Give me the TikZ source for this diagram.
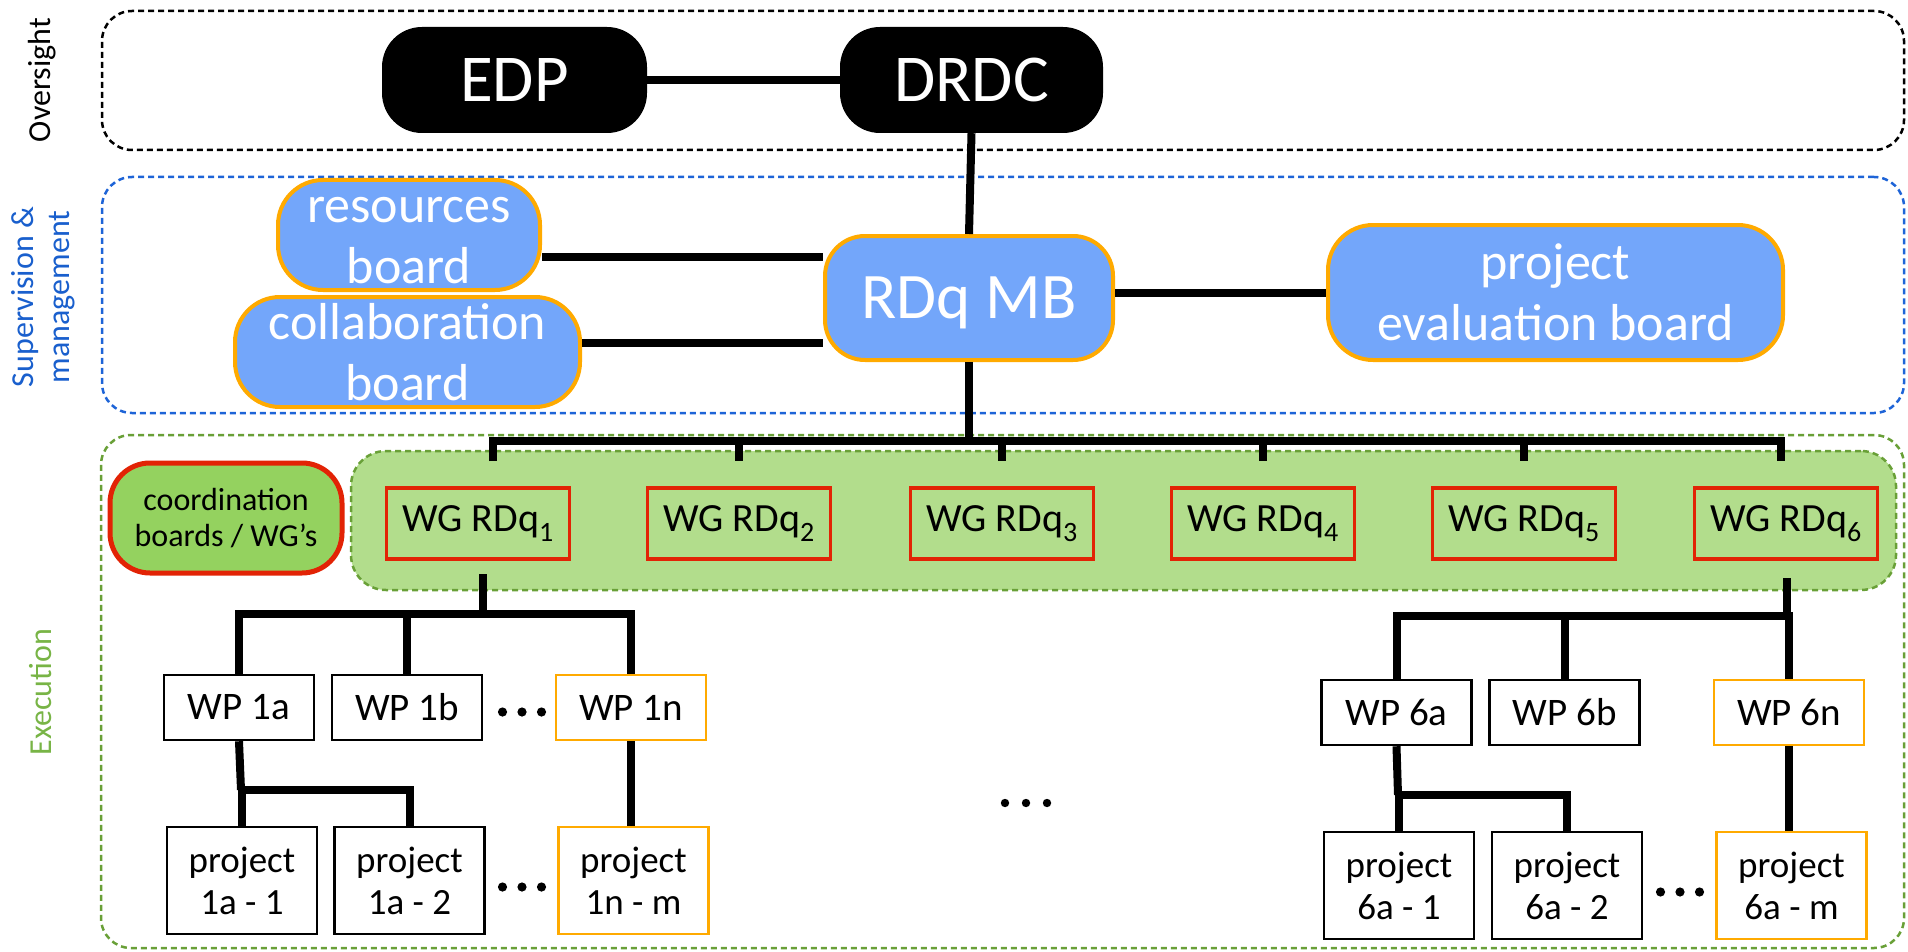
\documentclass[tikz,border=0pt]{standalone}
\usepackage{fontspec}
\setmainfont{Carlito}
\usetikzlibrary{calc}
\definecolor{bfill}{RGB}{115,166,250}
\definecolor{oborder}{RGB}{255,170,0}
\definecolor{gin}{RGB}{178,221,140}
\definecolor{gdash}{RGB}{105,160,55}
\definecolor{cfill}{RGB}{148,210,95}
\definecolor{rborder}{RGB}{226,35,5}
\definecolor{slabel}{RGB}{25,95,205}
\definecolor{sdash}{RGB}{30,100,215}
\definecolor{elabel}{RGB}{120,180,70}
\begin{document}
\begin{tikzpicture}[x=1pt,y=-1pt,
  container/.style={line width=2.5pt, dash pattern=on 6pt off 4pt, rounded corners=30pt, inner sep=0pt},
  blackbox/.style={fill=black, text=white, rounded corners=40pt, inner sep=0pt, minimum height=106pt, font=\fontsize{67}{67}\selectfont},
  bluebox/.style={fill=bfill, draw=oborder, line width=4pt, text=white, rounded corners=45pt, inner sep=0pt, align=center, font=\fontsize{52}{61}\selectfont},
  wgbox/.style={draw=rborder, line width=3.5pt, inner sep=0pt, minimum width=183pt, minimum height=71pt, font=\fontsize{40}{40}\selectfont},
  wpbox/.style={draw=black, line width=2.5pt, fill=white, inner sep=0pt, minimum width=150pt, minimum height=65pt, font=\fontsize{39}{39}\selectfont},
  wpor/.style={wpbox, draw=oborder},
  projbox/.style={wpbox, minimum height=107pt, align=center, font=\fontsize{37}{42}\selectfont},
  projor/.style={projbox, draw=oborder},
  link/.style={line width=8pt},
  dotmark/.style={inner sep=0pt, minimum size=0pt},
  sidelabel/.style={rotate=90, inner sep=0pt, align=center, font=\fontsize{32}{36}\selectfont}
]
\useasboundingbox (0,0) rectangle (1908,952);

% containers
\node[container, draw=black, minimum width=1802pt, minimum height=139pt] (over) at (1003,80.5) {};
\node[container, draw=sdash, minimum width=1802pt, minimum height=236pt] (sup) at (1003,295) {};
\node[container, draw=gdash, minimum width=1803pt, minimum height=513pt] (exe) at (1002.5,691.5) {};
\node[container, draw=gdash, fill=gin, rounded corners=35pt, minimum width=1545pt, minimum height=139pt] (wgrow) at (1123.5,520.5) {};

% side labels
\node[sidelabel] (lover) at (42,80) {Oversight};
\node[sidelabel, text=slabel] (lsup) at (43,297) {Supervision \&\\management};
\node[sidelabel, text=elabel] (lexe) at (41,692) {Execution};

% oversight
\node[blackbox, minimum width=265pt] (edp) at (514.5,80) {EDP};
\node[blackbox, minimum width=263pt] (drdc) at (971.5,80) {DRDC};

% supervision
\node[bluebox, minimum width=288pt, minimum height=124pt, rounded corners=40pt, font=\fontsize{65}{65}\selectfont, text depth=0pt] (mb) at (969,298) {RDq MB};
\node[bluebox, minimum width=262pt, minimum height=110pt] (res) at (409,235) {\vphantom{b}resources\\board};
\node[bluebox, minimum width=345pt, minimum height=110pt] (col) at (407.5,352) {collaboration\\board};
\node[bluebox, minimum width=455pt, minimum height=135pt] (peb) at (1555.5,292.5) {project\\evaluation board};

% coordination
\node[draw=rborder, fill=cfill, line width=5pt, rounded corners=40pt, inner sep=0pt, minimum width=232pt, minimum height=110pt, align=center, font=\fontsize{32}{36}\selectfont] (coord) at (226,518) {coordination\\boards / WG’s};

% working groups
\node[wgbox] (wg1) at (478,523.5) {WG RDq\textsubscript{1}};
\node[wgbox] (wg2) at (739,523.5) {WG RDq\textsubscript{2}};
\node[wgbox] (wg3) at (1002,523.5) {WG RDq\textsubscript{3}};
\node[wgbox] (wg4) at (1263,523.5) {WG RDq\textsubscript{4}};
\node[wgbox] (wg5) at (1524,523.5) {WG RDq\textsubscript{5}};
\node[wgbox] (wg6) at (1786,523.5) {WG RDq\textsubscript{6}};

% work packages, group 1
\node[wpbox] (wp1a) at (239,707.5) {WP 1a};
\node[wpbox] (wp1b) at (407,707.5) {WP 1b};
\node[wpor] (wp1n) at (631,707.5) {WP 1n};
\node[projbox] (p1a1) at (242,880.5) {project\\1a - 1};
\node[projbox] (p1a2) at (409.5,880.5) {project\\1a - 2};
\node[projor] (p1nm) at (633.5,880.5) {project\\1n - m};

% work packages, group 6
\node[wpbox] (wp6a) at (1396.5,712.5) {WP 6a};
\node[wpbox] (wp6b) at (1564.5,712.5) {WP 6b};
\node[wpor] (wp6n) at (1789,712.5) {WP 6n};
\node[projbox] (p6a1) at (1399,885.5) {project\\6a - 1};
\node[projbox] (p6a2) at (1567,885.5) {project\\6a - 2};
\node[projor] (p6am) at (1791.5,885.5) {project\\6a - m};

% ellipsis dots
\coordinate (d1) at (522,712);
\coordinate (d2) at (522,887);
\coordinate (d3) at (1680,892);
\coordinate (d4) at (1026,803);
\foreach \c in {d1,d2,d3}{
  \fill (\c) ++(-19.5,0) circle (4.6);
  \fill (\c) circle (4.6);
  \fill (\c) ++(19.5,0) circle (4.6);
}
\fill (d4) ++(-21,0) circle (4.2);
\fill (d4) circle (4.2);
\fill (d4) ++(21,0) circle (4.2);

% oversight / supervision connectors
\draw[link] (edp.east) -- (drdc.west);
\draw[link] (drdc.south) -- (mb.north);
\draw[link] (res.east |- 0,257) -- (mb.west |- 0,257);
\draw[link] (col.east |- 0,343) -- (mb.west |- 0,343);
\draw[link] (mb.east |- 0,293) -- (peb.west |- 0,293);

% main bus to working groups
\coordinate (bus) at (969,441);
\coordinate (t1) at (493,461);
\coordinate (t6) at (1781,461);
\draw[link] (mb.south) -- (bus);
\draw[link] (t1) |- (bus) -| (t6);
\draw[link] (wg2.north |- bus) -- (wg2.north |- t1);
\draw[link] (wg3.north |- bus) -- (wg3.north |- t1);
\draw[link] (wg4.north |- bus) -- (wg4.north |- t1);
\draw[link] (wg5.north |- bus) -- (wg5.north |- t1);

% group 1 tree
\coordinate (g1s) at (483,574);
\coordinate (g1b) at (483,614);
\draw[link] (g1s) -- (g1b);
\draw[link] (wp1a.north) |- (g1b) -| (wp1n.north);
\draw[link] (wp1b.north) -- (wp1b.north |- g1b);
\coordinate (w1b) at (241,790);
\draw[link] (wp1a.south) -- (w1b);
\draw[link] (p1a1.north) |- (w1b) -| (p1a2.north);
\draw[link] (wp1n.south) -- (p1nm.north -| wp1n.south);

% group 6 tree
\coordinate (g6s) at (1787,578);
\coordinate (g6b) at (1787,616);
\draw[link] (g6s) -- (g6b);
\draw[link] (wp6a.north) |- (g6b) -- (wp6n.north |- g6b) -- (wp6n.north);
\draw[link] (wp6b.north) -- (wp6b.north |- g6b);
\coordinate (w6b) at (1398,795);
\draw[link] (wp6a.south) -- (w6b);
\draw[link] (p6a1.north) |- (w6b) -| (p6a2.north);
\draw[link] (wp6n.south) -- (p6am.north -| wp6n.south);
\end{tikzpicture}
\end{document}
